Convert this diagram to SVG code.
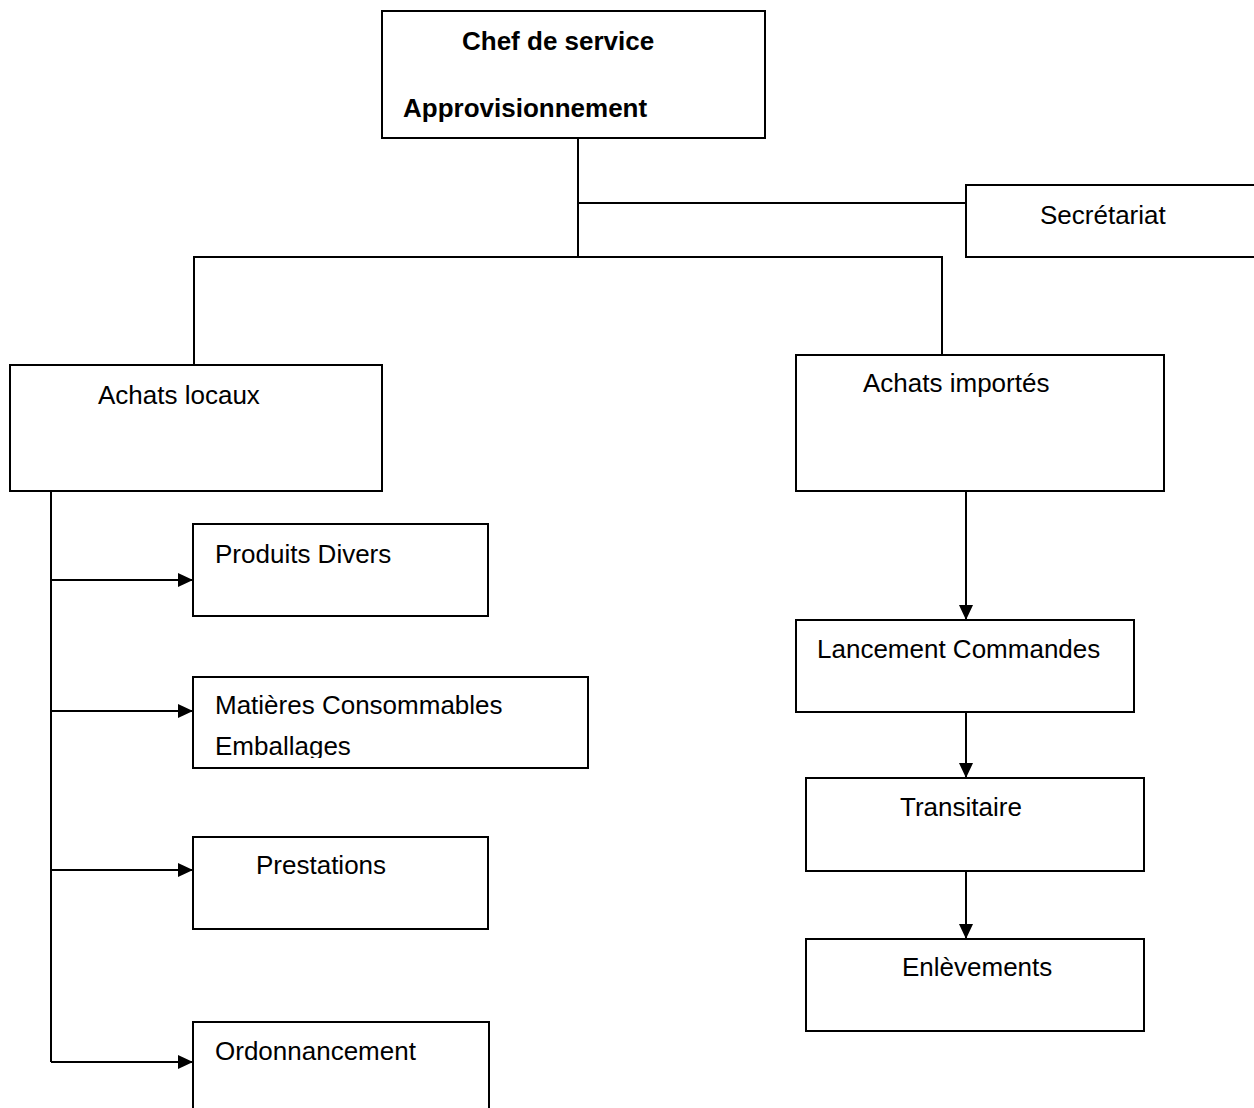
<svg xmlns="http://www.w3.org/2000/svg" width="1254" height="1108" viewBox="0 0 1254 1108">
<style>
  .box { fill: #ffffff; stroke: #000000; stroke-width: 2; }
  .ln { fill: none; stroke: #000000; stroke-width: 2; }
  .t { font-family: "Liberation Sans", Arial, sans-serif; font-size: 26px; fill: #000000; }
  .b { font-weight: bold; }
</style>
<defs>
  <marker id="arr" markerWidth="16" markerHeight="14" refX="15" refY="7" orient="auto" markerUnits="userSpaceOnUse">
    <path d="M0,0 L15,7 L0,14 Z" fill="#000000"/>
  </marker>
  <clipPath id="clipEmb"><rect x="193" y="677" width="395" height="81"/></clipPath>
</defs>
<rect width="1254" height="1108" fill="#ffffff"/>
<g id="connectors">
  <polyline class="ln" points="578,138 578,257"/>
  <polyline class="ln" points="578,203 966,203"/>
  <polyline class="ln" points="194,365 194,257 942,257 942,355"/>
  <polyline class="ln" points="51,491 51,1062"/>
  <line class="ln" x1="51" y1="580" x2="193" y2="580" marker-end="url(#arr)"/>
  <line class="ln" x1="51" y1="711" x2="193" y2="711" marker-end="url(#arr)"/>
  <line class="ln" x1="51" y1="870" x2="193" y2="870" marker-end="url(#arr)"/>
  <line class="ln" x1="51" y1="1062" x2="193" y2="1062" marker-end="url(#arr)"/>
  <line class="ln" x1="966" y1="491" x2="966" y2="620" marker-end="url(#arr)"/>
  <line class="ln" x1="966" y1="712" x2="966" y2="778" marker-end="url(#arr)"/>
  <line class="ln" x1="966" y1="871" x2="966" y2="939" marker-end="url(#arr)"/>
</g>
<g id="chef">
  <rect class="box" x="382" y="11" width="383" height="127"/>
  <text class="t b" x="462" y="50">Chef de service</text>
  <text class="t b" x="403" y="117">Approvisionnement</text>
</g>
<g id="secretariat">
  <rect class="box" x="966" y="185" width="300" height="72"/>
  <text class="t" x="1040" y="224">Secrétariat</text>
</g>
<g id="achats-locaux">
  <rect class="box" x="10" y="365" width="372" height="126"/>
  <text class="t" x="98" y="404">Achats locaux</text>
</g>
<g id="achats-importes">
  <rect class="box" x="796" y="355" width="368" height="136"/>
  <text class="t" x="863" y="392">Achats importés</text>
</g>
<g id="produits-divers">
  <rect class="box" x="193" y="524" width="295" height="92"/>
  <text class="t" x="215" y="563">Produits Divers</text>
</g>
<g id="matieres">
  <rect class="box" x="193" y="677" width="395" height="91"/>
  <text class="t" x="215" y="714">Matières Consommables</text>
  <text class="t" x="215" y="755" clip-path="url(#clipEmb)">Emballages</text>
</g>
<g id="prestations">
  <rect class="box" x="193" y="837" width="295" height="92"/>
  <text class="t" x="256" y="874">Prestations</text>
</g>
<g id="ordonnancement">
  <rect class="box" x="193" y="1022" width="296" height="100"/>
  <text class="t" x="215" y="1060">Ordonnancement</text>
</g>
<g id="lancement">
  <rect class="box" x="796" y="620" width="338" height="92"/>
  <text class="t" x="817" y="658">Lancement Commandes</text>
</g>
<g id="transitaire">
  <rect class="box" x="806" y="778" width="338" height="93"/>
  <text class="t" x="900" y="816">Transitaire</text>
</g>
<g id="enlevements">
  <rect class="box" x="806" y="939" width="338" height="92"/>
  <text class="t" x="902" y="976">Enlèvements</text>
</g>
</svg>
